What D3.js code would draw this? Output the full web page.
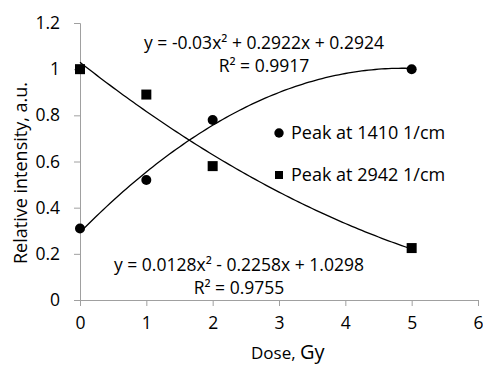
<!DOCTYPE html>
<html>
<head>
<meta charset="utf-8">
<script src="https://cdn.jsdelivr.net/npm/d3@7"></script>
<style>
  body { margin: 0; background: #fff; }
  svg text { font-family: "Open Sans", "Noto Sans", sans-serif; fill: #000; }
  .axis path, .axis line { stroke: #a0a0a0; }
</style>
</head>
<body>
<div id="chart"></div>
<script>
// Data.
const dose = [0, 1, 2, 5];
const peak1410 = [0.31, 0.52, 0.78, 1.0];
const peak2942 = [1.0, 0.89, 0.58, 0.225];

// Trendline coefficients as printed on the chart [a, b, c] for a*x^2 + b*x + c.
const fit1410 = [-0.03, 0.2922, 0.2924];
const fit2942 = [0.0128, -0.2258, 1.0298];

const xTicks = [0, 1, 2, 3, 4, 5, 6];
const yTicks = [0, 0.2, 0.4, 0.6, 0.8, 1, 1.2];

const W = 483, H = 367;
const margin = { top: 23, right: 5, bottom: 67, left: 80 };

const svg = d3.select("#chart").append("svg")
    .attr("width", W)
    .attr("height", H);

const x = d3.scaleLinear().domain([0, 6]).range([margin.left, 478]);
const y = d3.scaleLinear().domain([0, 1.2]).range([300, margin.top]);

// Axes
svg.append("g")
    .attr("class", "axis")
    .attr("transform", "translate(0," + y(0) + ")")
    .call(d3.axisBottom(x).tickValues(xTicks).tickSize(6).tickPadding(11).tickFormat(d3.format("d")));
svg.append("g")
    .attr("class", "axis")
    .attr("transform", "translate(" + x(0) + ",0)")
    .call(d3.axisLeft(y).tickValues(yTicks).tickSize(6).tickPadding(14)
      .tickFormat(d => d === 0 || d === 1 ? d : d3.format(".1f")(d)));
svg.selectAll(".axis text")
    .style("font-size", "17.5px")
    .style("font-family", "'Open Sans', sans-serif");

// Axis titles
const xt = svg.append("text")
    .attr("x", 251).attr("y", 359);
xt.append("tspan").style("font-size", "17px").text("Dose, ");
xt.append("tspan").style("font-size", "20px").text("Gy");

svg.append("text")
    .attr("transform", "translate(27,173) rotate(-90)")
    .attr("text-anchor", "middle")
    .style("font-size", "18px")
    .text("Relative intensity, a.u.");

// Trendlines
const curve = c => d3.range(0, 5.0001, 0.05).map(v => [v, c[0]*v*v + c[1]*v + c[2]]);
const line = d3.line().x(d => x(d[0])).y(d => y(d[1]));
[fit1410, fit2942].forEach(c => {
  svg.append("path")
      .attr("d", line(curve(c)))
      .attr("fill", "none")
      .attr("stroke", "#000")
      .attr("stroke-width", 1.3);
});

// Markers
svg.append("g").selectAll("circle")
  .data(dose)
  .join("circle")
    .attr("cx", d => x(d))
    .attr("cy", (d, i) => y(peak1410[i]))
    .attr("r", 5)
    .attr("fill", "#000");

const sq = 10;
svg.append("g").selectAll("rect")
  .data(dose)
  .join("rect")
    .attr("x", d => x(d) - sq/2)
    .attr("y", (d, i) => y(peak2942[i]) - sq/2)
    .attr("width", sq).attr("height", sq)
    .attr("fill", "#000");

// Legend
const legend = svg.append("g").attr("transform", "translate(279,0)");
legend.append("circle").attr("cx", 0).attr("cy", 133).attr("r", 4.7).attr("fill", "#000");
legend.append("text").attr("x", 12).attr("y", 139).style("font-size", "18px").text("Peak at 1410 1/cm");
legend.append("rect").attr("x", -4).attr("y", 171).attr("width", 8).attr("height", 8).attr("fill", "#000");
legend.append("text").attr("x", 12).attr("y", 181).style("font-size", "18px").text("Peak at 2942 1/cm");

// Equations
function equation(cx, cy, eq, r2) {
  svg.append("text").attr("x", cx).attr("y", cy)
      .attr("text-anchor", "middle").style("font-size", "17.5px")
      .text(eq);
  svg.append("text").attr("x", cx).attr("y", cy + 23)
      .attr("text-anchor", "middle").style("font-size", "17.5px")
      .text("R² = " + r2);
}
equation(264, 49, "y = -0.03x² + 0.2922x + 0.2924", "0.9917");
equation(239, 271, "y = 0.0128x² - 0.2258x + 1.0298", "0.9755");
</script>
</body>
</html>
